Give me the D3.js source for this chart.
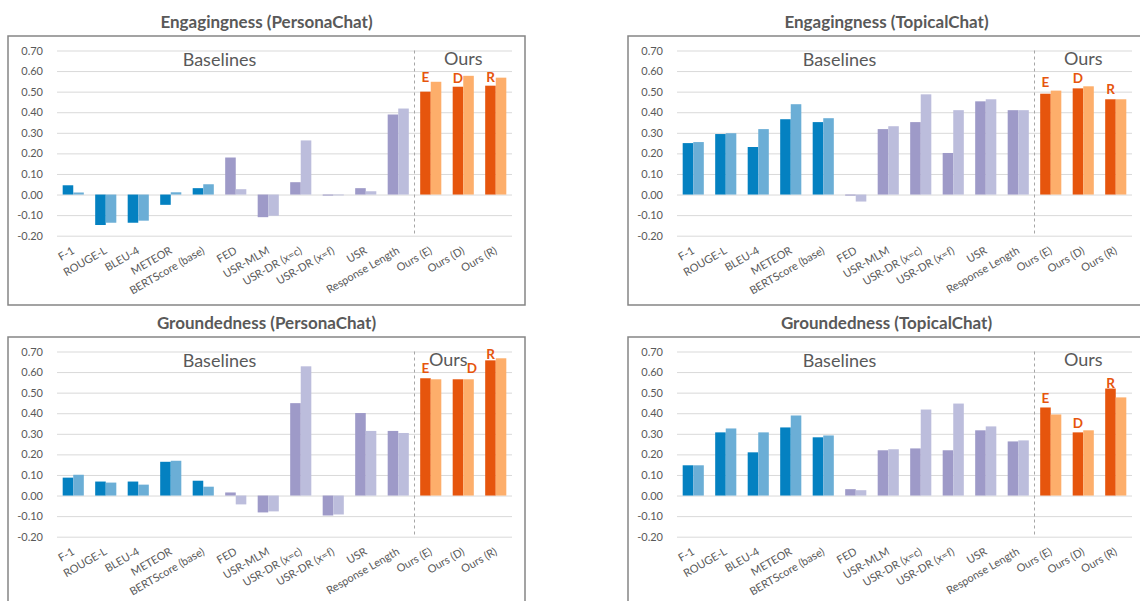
<!DOCTYPE html>
<html>
<head>
<meta charset="utf-8">
<script src="https://cdn.jsdelivr.net/npm/d3@7"></script>
<style>
  body { margin: 0; background: #fff; }
  svg { display: block; font-family: Lato, "Open Sans", sans-serif; }
</style>
</head>
<body>
<div id="wrapper"></div>
<script>
// categories shared by all four charts
const categories = ["F-1", "ROUGE-L", "BLEU-4", "METEOR", "BERTScore (base)", "FED", "USR-MLM",
    "USR-DR (x=c)", "USR-DR (x=f)", "USR", "Response Length", "Ours (E)", "Ours (D)", "Ours (R)"];
// metric family per category (decides the colour pair)
const families = ["overlap", "overlap", "overlap", "overlap", "overlap",
    "learned", "learned", "learned", "learned", "learned", "learned",
    "ours", "ours", "ours"];
const oursLetters = ["E", "D", "R"];
const yTicks = [0.7, 0.6, 0.5, 0.4, 0.3, 0.2, 0.1, 0.0, -0.1, -0.2];

// Engagingness (PersonaChat)
const engPersonaA = [0.045, -0.148, -0.137, -0.050, 0.031, 0.180, -0.110, 0.060, -0.005, 0.031, 0.389, 0.500, 0.524, 0.529];
const engPersonaB = [0.010, -0.137, -0.127, 0.011, 0.050, 0.026, -0.103, 0.263, -0.004, 0.016, 0.418, 0.548, 0.577, 0.568];
// Engagingness (TopicalChat)
const engTopicalA = [0.250, 0.294, 0.231, 0.366, 0.352, -0.005, 0.318, 0.352, 0.202, 0.453, 0.410, 0.490, 0.516, 0.463];
const engTopicalB = [0.255, 0.298, 0.318, 0.439, 0.371, -0.034, 0.332, 0.487, 0.410, 0.463, 0.410, 0.505, 0.526, 0.463];
// Groundedness (PersonaChat)
const grdPersonaA = [0.087, 0.068, 0.068, 0.164, 0.072, 0.015, -0.082, 0.449, -0.097, 0.401, 0.314, 0.570, 0.565, 0.657];
const grdPersonaB = [0.101, 0.063, 0.053, 0.169, 0.043, -0.043, -0.077, 0.628, -0.092, 0.314, 0.304, 0.565, 0.565, 0.667];
// Groundedness (TopicalChat)
const grdTopicalA = [0.147, 0.307, 0.210, 0.331, 0.283, 0.031, 0.220, 0.229, 0.220, 0.317, 0.263, 0.428, 0.307, 0.520];
const grdTopicalB = [0.147, 0.326, 0.307, 0.389, 0.292, 0.026, 0.225, 0.418, 0.447, 0.336, 0.268, 0.394, 0.317, 0.477];

const colors = {
    overlap: ["#0481c1", "#6baed6"],
    learned: ["#9e9ac8", "#bcbddc"],
    ours: ["#e6550d", "#fdae6b"]
};
const textColor = "#595959";

// layout per chart; lift = px between dark bar top and its letter, shift = px sideways
var panels = [
    { title: "Engagingness (PersonaChat)", a: engPersonaA, b: engPersonaB, dx: 0, dy: 0,
      lift: [10, 4, 4], shift: [0, 0, 0], oursDx: 0 },
    { title: "Engagingness (TopicalChat)", a: engTopicalA, b: engTopicalB, dx: 620, dy: 0,
      lift: [7, 5, 5], shift: [0, 0, 0], oursDx: 0 },
    { title: "Groundedness (PersonaChat)", a: grdPersonaA, b: grdPersonaB, dx: 0, dy: 301,
      lift: [5, 6, 1], shift: [0, 14, 0], oursDx: -15 },
    { title: "Groundedness (TopicalChat)", a: grdTopicalA, b: grdTopicalB, dx: 620, dy: 301,
      lift: [4, 4, 1], shift: [0, 0, 0], oursDx: 0 }
];

var dim = {
    width: 1140,
    height: 601,
    frame: { x: 8, y: 36, w: 517, h: 269 },
    plot: { left: 57, right: 512, top: 50.5, bottom: 235.7 }
};

const svg = d3.select("#wrapper").append("svg")
    .attr("width", dim.width)
    .attr("height", dim.height);

const xScaler = d3.scaleBand()
    .domain(categories)
    .range([dim.plot.left, dim.plot.right])
    .paddingInner(0.35)
    .paddingOuter(0.175);

const xInner = d3.scaleBand()
    .domain([0, 1])
    .range([0, xScaler.bandwidth()]);

const yScaler = d3.scaleLinear()
    .domain([-0.2, 0.7])
    .range([dim.plot.bottom, dim.plot.top]);

const step = xScaler.step();
const bandLeft = (c) => xScaler(c) - xScaler.paddingInner() * step / 2;

panels.forEach(function (p) {
    const g = svg.append("g").attr("transform", `translate(${p.dx},${p.dy})`);

    g.append("rect")
        .attr("x", dim.frame.x)
        .attr("y", dim.frame.y)
        .attr("width", dim.frame.w)
        .attr("height", dim.frame.h)
        .attr("fill", "#fff")
        .attr("stroke", "#858585")
        .attr("stroke-width", 1.5);

    g.append("text")
        .attr("x", dim.frame.x + dim.frame.w / 2)
        .attr("y", 21)
        .attr("dominant-baseline", "central")
        .attr("text-anchor", "middle")
        .style("font-size", "17px")
        .style("font-weight", "bold")
        .attr("fill", textColor)
        .text(p.title);

    // gridlines + y labels
    const yAxis = d3.axisLeft(yScaler)
        .tickValues(yTicks)
        .tickFormat(d3.format(".2f"))
        .tickSize(-(dim.plot.right - dim.plot.left))
        .tickPadding(14);
    const ya = g.append("g")
        .attr("transform", `translate(${dim.plot.left},0)`)
        .call(yAxis);
    ya.select(".domain").remove();
    ya.selectAll(".tick line").attr("stroke", "#d9d9d9").attr("stroke-width", 1);
    ya.selectAll(".tick text")
        .attr("fill", textColor)
        .style("font-size", "11px")
        .style("font-family", "Lato, sans-serif")
        .text(d => d3.format(".2f")(d).replace("\u2212", "-"));

    // divider between baselines and ours
    const divX = bandLeft("Ours (E)");
    g.append("line")
        .attr("x1", divX).attr("x2", divX)
        .attr("y1", yScaler(0.7)).attr("y2", yScaler(-0.2))
        .attr("stroke", "#a6a6a6")
        .attr("stroke-dasharray", "3,3");

    g.append("text")
        .attr("x", bandLeft("FED"))
        .attr("y", 59)
        .attr("dominant-baseline", "central")
        .attr("text-anchor", "middle")
        .style("font-size", "18px")
        .attr("fill", textColor)
        .text("Baselines");

    g.append("text")
        .attr("x", (divX + dim.plot.right) / 2 + p.oursDx)
        .attr("y", 58)
        .attr("dominant-baseline", "central")
        .attr("text-anchor", "middle")
        .style("font-size", "18px")
        .attr("fill", textColor)
        .text("Ours");

    // bars
    [p.a, p.b].forEach(function (vals, k) {
        g.append("g").selectAll("rect")
            .data(categories)
            .join("rect")
            .attr("x", c => xScaler(c) + xInner(k))
            .attr("width", xInner.bandwidth())
            .attr("y", (c, i) => yScaler(Math.max(0, vals[i])))
            .attr("height", (c, i) => Math.abs(yScaler(vals[i]) - yScaler(0)))
            .attr("fill", (c, i) => colors[families[i]][k]);
    });

    // E / D / R letters above our dark bars
    const oursCats = categories.filter((c, i) => families[i] === "ours");
    oursCats.forEach(function (c, j) {
        const i = categories.indexOf(c);
        g.append("text")
            .attr("x", xScaler(c) + xInner(0) + xInner.bandwidth() / 2 + p.shift[j])
            .attr("y", yScaler(p.a[i]) - p.lift[j])
            .attr("text-anchor", "middle")
            .style("font-size", "13.5px")
            .style("font-weight", "bold")
            .attr("fill", "#e6550d")
            .text(oursLetters[j]);
    });

    // rotated category labels
    g.append("g").selectAll("text")
        .data(categories)
        .join("text")
        .attr("transform", c => `translate(${xScaler(c) + xScaler.bandwidth() / 2 + 2},${dim.plot.bottom + 17}) rotate(-30)`)
        .attr("text-anchor", "end")
        .style("font-size", "11px")
        .attr("fill", textColor)
        .text(c => c);
});
</script>
</body>
</html>
